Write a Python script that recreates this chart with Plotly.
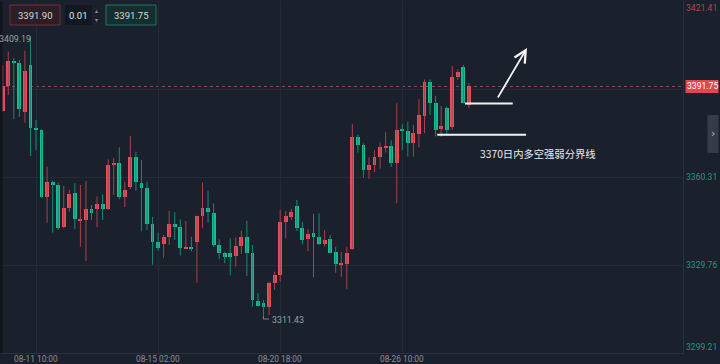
import plotly.graph_objects as go

# ---------------- data (4h candles, gold) ----------------
opens = [3383.34, 3392.02, 3400.50, 3400.01, 3383.00, 3399.21, 3377.34, 3376.64, 3353.27, 3358.48,
         3357.54, 3342.86, 3349.66, 3354.87, 3345.22, 3345.39, 3349.11, 3349.11, 3350.84, 3349.11,
         3364.49, 3365.08, 3353.48, 3356.85, 3367.16, 3358.34, 3356.33, 3344.11, 3337.86, 3336.95,
         3339.59, 3343.90, 3342.79, 3335.43, 3336.12, 3337.86, 3346.88, 3349.45, 3347.93, 3336.71,
         3333.83, 3333.93, 3332.89, 3336.36, 3339.31, 3333.83, 3317.27, 3316.40, 3315.29, 3323.62,
         3326.19, 3344.59, 3346.54, 3350.25, 3342.72, 3338.69, 3340.77, 3339.38, 3337.06, 3338.69,
         3334.11, 3330.01, 3330.22, 3335.22, 3374.11, 3371.43, 3362.65, 3364.38, 3367.37, 3370.56,
         3371.09, 3365.29, 3376.81, 3376.29, 3372.02, 3375.25, 3381.57, 3393.41, 3386.02, 3377.09,
         3384.18, 3377.79, 3394.94, 3398.41, 3385.32]
highs = [3399.21, 3403.83, 3401.64, 3400.95, 3404.18, 3409.19, 3380.11, 3376.99, 3363.90, 3359.04,
         3358.34, 3357.20, 3355.81, 3358.13, 3357.54, 3358.93, 3350.60, 3353.55, 3354.31, 3366.47,
         3366.92, 3370.63, 3358.69, 3374.56, 3369.11, 3366.22, 3358.69, 3346.43, 3340.98, 3340.18,
         3348.52, 3348.06, 3345.63, 3345.04, 3339.49, 3346.88, 3358.34, 3355.56, 3351.19, 3338.69,
         3334.38, 3339.04, 3339.31, 3341.68, 3345.15, 3336.71, 3319.94, 3317.61, 3323.97, 3327.44,
         3349.04, 3348.52, 3349.28, 3352.34, 3344.80, 3342.16, 3347.58, 3347.72, 3341.92, 3340.18,
         3336.12, 3334.28, 3336.12, 3378.65, 3375.01, 3372.02, 3367.09, 3369.59, 3372.30, 3375.88,
         3373.06, 3385.91, 3378.72, 3379.52, 3378.38, 3387.40, 3394.18, 3394.18, 3388.45, 3384.97,
         3384.73, 3398.86, 3397.72, 3399.21, 3392.96]
lows = [3383.00, 3388.79, 3380.46, 3381.15, 3379.18, 3367.61, 3369.70, 3353.03, 3344.45, 3340.98,
        3341.92, 3342.51, 3348.27, 3342.27, 3336.12, 3331.15, 3345.39, 3342.86, 3345.39, 3348.86,
        3354.07, 3352.58, 3349.90, 3356.05, 3355.56, 3341.40, 3341.92, 3329.87, 3334.73, 3332.30,
        3336.71, 3338.45, 3333.06, 3335.32, 3334.45, 3323.62, 3342.51, 3344.45, 3336.02, 3331.75,
        3330.36, 3326.12, 3329.18, 3333.59, 3325.95, 3315.29, 3315.29, 3311.43, 3312.40, 3321.09,
        3323.97, 3339.04, 3345.39, 3341.57, 3336.88, 3334.56, 3325.50, 3336.71, 3336.12, 3333.83,
        3327.09, 3325.67, 3321.33, 3334.97, 3368.76, 3360.15, 3359.70, 3361.99, 3363.17, 3368.83,
        3363.79, 3351.19, 3369.70, 3367.37, 3367.37, 3370.56, 3375.50, 3381.85, 3374.38, 3374.21,
        3374.56, 3376.64, 3394.00, 3385.84, 3384.18]
closes = [3391.92, 3400.50, 3400.01, 3384.04, 3397.23, 3377.34, 3376.88, 3353.27, 3358.48, 3357.44,
          3342.72, 3349.66, 3354.42, 3345.63, 3345.56, 3349.11, 3347.93, 3350.84, 3349.21, 3364.49,
          3365.08, 3353.38, 3355.81, 3367.16, 3358.69, 3356.33, 3344.11, 3337.86, 3335.56, 3339.59,
          3343.90, 3342.79, 3335.67, 3336.12, 3335.56, 3346.88, 3349.45, 3348.27, 3336.71, 3333.83,
          3332.65, 3332.65, 3336.26, 3339.31, 3333.93, 3317.61, 3315.60, 3315.29, 3323.62, 3326.29,
          3344.80, 3346.68, 3348.00, 3342.72, 3338.55, 3340.53, 3339.38, 3337.06, 3338.45, 3334.04,
          3330.22, 3330.36, 3333.83, 3374.11, 3371.43, 3362.86, 3364.59, 3367.16, 3370.74, 3371.09,
          3365.29, 3376.64, 3376.29, 3372.02, 3375.70, 3381.68, 3393.31, 3386.02, 3376.64, 3377.86,
          3376.64, 3394.94, 3396.88, 3385.91, 3391.75]

xtick_pos = [6, 28, 50, 72]
xtick_labels = ["08-11 10:00", "08-15 02:00", "08-20 18:00", "08-26 10:00"]
ytick_vals = [3299.21, 3329.76, 3360.31, 3390.86, 3421.41]
ytick_shown = [3299.21, 3329.76, 3360.31, 3421.41]
last_price = 3391.75
bid_price = "3391.90"
ask_price = "3391.75"
lot_size = "0.01"
max_label = "3409.19"
min_label = "3311.43"
note_text = "3370日内多空强弱分界线"

# ---------------- styling ----------------
BG = "#1a202c"
GRID = "#242b38"
UP = "#e6505c"
DOWN = "#18bd93"
UP_WICK = "#a8414d"
DOWN_WICK = "#168a6f"
AXIS_TXT = "#8b909a"
FONT = "Roboto, sans-serif"

PW, PH, PTOP = 683.0, 352.0, 1.0
YSPAN = ytick_vals[-1] - ytick_vals[0]


def px(x):
    return x / PW


def py(y):
    return 1 - (y - PTOP) / PH


n = len(opens)
idx = list(range(n))
up = [i for i in idx if closes[i] >= opens[i]]
dn = [i for i in idx if closes[i] < opens[i]]


def wick_xy(ids):
    xs, ys = [], []
    for i in ids:
        xs += [i, i, None]
        ys += [lows[i], highs[i], None]
    return xs, ys


def body(ids):
    base = [min(opens[i], closes[i]) for i in ids]
    h = [max(abs(closes[i] - opens[i]), 0.4) for i in ids]
    return base, h


fig = go.Figure()
for ids, col in ((up, UP_WICK), (dn, DOWN_WICK)):
    wx, wy = wick_xy(ids)
    fig.add_trace(go.Scatter(x=wx, y=wy, mode="lines", line=dict(color=col, width=1),
                             hoverinfo="skip", showlegend=False))
for ids, col in ((up, UP), (dn, DOWN)):
    b, h = body(ids)
    fig.add_trace(go.Bar(x=ids, y=h, base=b, width=0.7, marker=dict(color=col, line=dict(width=0)),
                         hoverinfo="skip", showlegend=False))

shapes = []
shapes.append(dict(type="rect", xref="paper", yref="paper", x0=0, x1=px(2.5), y0=0, y1=1,
                   fillcolor="#11151d", line=dict(width=0), layer="above"))
shapes.append(dict(type="line", xref="paper", yref="y", x0=0, x1=1, y0=last_price, y1=last_price,
                   line=dict(color="#9a4450", width=1, dash="dot"), layer="below"))
shapes.append(dict(type="line", xref="x", yref="y", x0=83.3, x1=91.9, y0=lows[83], y1=lows[83],
                   line=dict(color="#f2f2f2", width=2)))
shapes.append(dict(type="line", xref="x", yref="y", x0=78.3, x1=94.3, y0=3375.0, y1=3375.0,
                   line=dict(color="#f2f2f2", width=2)))
shapes.append(dict(type="path", xref="paper", yref="paper",
                   path=f"M {px(263.3)} {py(316.5)} L {px(263.3)} {py(319)} L {px(269)} {py(319)}",
                   line=dict(color="#7d838d", width=1)))
shapes.append(dict(type="rect", xref="paper", yref="paper", x0=px(10), x1=px(60), y0=py(25), y1=py(5),
                   fillcolor="#2b1e27", line=dict(color="#7a2d38", width=1), layer="above"))
shapes.append(dict(type="rect", xref="paper", yref="paper", x0=px(65), x1=px(92), y0=py(25), y1=py(5),
                   fillcolor="#131821", line=dict(width=0), layer="above"))
shapes.append(dict(type="rect", xref="paper", yref="paper", x0=px(106), x1=px(156), y0=py(25), y1=py(5),
                   fillcolor="#162e2e", line=dict(color="#1d7564", width=1), layer="above"))
shapes.append(dict(type="rect", xref="paper", yref="paper", x0=px(707.5), x1=px(718.5), y0=py(153), y1=py(115),
                   fillcolor="#353b47", line=dict(width=0), layer="above"))
half = 6.5 * YSPAN / PH
shapes.append(dict(type="rect", xref="paper", yref="y", x0=px(685.5), x1=px(718.5),
                   y0=last_price - half, y1=last_price + half,
                   fillcolor="#e0474f", line=dict(width=0), layer="above"))

ann = []
for v in ytick_shown:
    ys = 0
    col = "#1d9b7e"
    if v == ytick_vals[-1]:
        ys = -7
        col = "#b8434e"
    elif v == ytick_vals[0]:
        ys = 6
    ann.append(dict(xref="paper", yref="y", x=px(718.5), y=v, yshift=ys, text=f"{v:.2f}",
                    showarrow=False, xanchor="right", yanchor="middle",
                    font=dict(family=FONT, size=8.6, color=col)))
ann.append(dict(xref="paper", yref="y", x=px(702), y=last_price, text=f"{last_price:.2f}",
                showarrow=False, xanchor="center", yanchor="middle",
                font=dict(family=FONT, size=8.6, color="#ffffff")))
for p, t in zip(xtick_pos, xtick_labels):
    ann.append(dict(xref="x", yref="paper", x=p, y=0, yshift=-5.5, text=t, showarrow=False,
                    xanchor="center", yanchor="middle",
                    font=dict(family=FONT, size=8.3, color=AXIS_TXT)))
ann.append(dict(xref="paper", yref="paper", x=px(33), y=py(39), text=max_label, showarrow=False,
                xanchor="right", yanchor="middle", font=dict(family=FONT, size=8.8, color="#9aa0a9")))
ann.append(dict(xref="paper", yref="paper", x=px(270), y=py(319.5), text=min_label, showarrow=False,
                xanchor="left", yanchor="middle", font=dict(family=FONT, size=8.8, color="#9aa0a9")))
for cx, cy, t, sz, fam, col in ((35, 15, bid_price, 9.5, FONT, "#d8d8d8"),
                                (78.5, 15, lot_size, 9.5, FONT, "#e6e6e6"),
                                (96.5, 10.5, "▴", 6, "DejaVu Sans", "#8a8f98"),
                                (96.5, 19.5, "▾", 6, "DejaVu Sans", "#8a8f98"),
                                (131, 15, ask_price, 9.5, FONT, "#d8d8d8"),
                                (713, 133, "›", 11, "DejaVu Sans", "#b5bac2")):
    ann.append(dict(xref="paper", yref="paper", x=px(cx), y=py(cy), text=t, showarrow=False,
                    xanchor="center", yanchor="middle", font=dict(family=fam, size=sz, color=col)))
ann.append(dict(xref="paper", yref="paper", x=px(478), y=py(154), text=note_text, showarrow=False,
                xanchor="left", yanchor="middle",
                font=dict(family="Noto Sans CJK SC", size=10.3, color="#ececec")))
ann.append(dict(xref="x", yref="y", x=94.47, y=3405.1, ax=-30, ay=51, axref="pixel", ayref="pixel",
                text="", showarrow=True, arrowhead=5, arrowsize=1.3, arrowwidth=1.8,
                arrowcolor="#f2f2f2"))

fig.update_layout(
    width=720, height=364,
    margin=dict(l=0, r=37, t=1, b=11),
    paper_bgcolor=BG, plot_bgcolor=BG,
    barmode="overlay", bargap=0,
    showlegend=False,
    xaxis=dict(range=[-0.4865, 122.577], tickvals=xtick_pos, showticklabels=False,
               showgrid=True, gridcolor=GRID, gridwidth=1, zeroline=False,
               showline=True, linecolor="#2a313e", linewidth=1, fixedrange=True),
    yaxis=dict(range=[ytick_vals[0], ytick_vals[-1]], tickvals=ytick_vals, showticklabels=False,
               side="right", showgrid=True, gridcolor=GRID, gridwidth=1, zeroline=False,
               showline=True, linecolor="#2a313e", linewidth=1, fixedrange=True),
    shapes=shapes,
    annotations=ann,
)

fig.write_html("out.html")
